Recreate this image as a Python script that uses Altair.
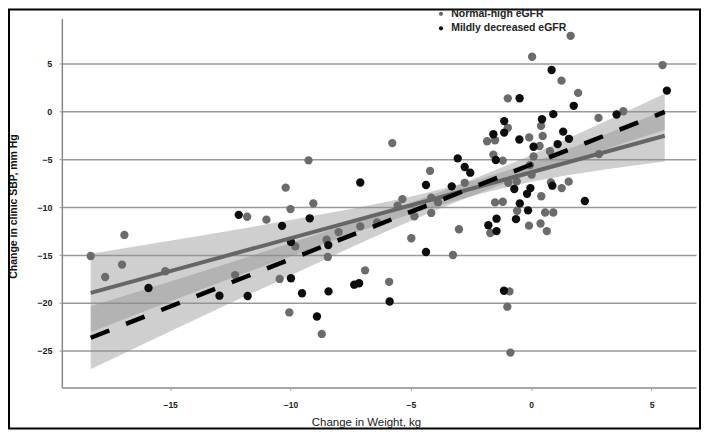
import altair as alt
import pandas as pd

# ---- data ----
normal_x = [-18.3, -17.7, -16.9, -17.0, -15.2, -12.3, -11.8, -11.0, -10.2, -10.0, -10.45, -9.8, -10.05, -9.25, -9.05,
            -8.7, -8.5, -8.45, -8.0, -7.1, -6.9, -6.4, -5.9, -5.77, -5.35, -5.55, -4.98, -4.85, -4.2, -4.15, -3.87,
            -4.15, -3.0, -3.25, -2.76, -1.83, -1.5, -1.57, -1.18, -1.5, -1.18, -1.7, -0.97, -0.97, -0.9, -0.99, -0.86,
            -0.95, -0.6, -0.58, -0.09, -0.08, 0.04, 0.41, 0.48, 0.35, 0.1, -0.05, 0.02, 0.78, 0.82, 0.42, 0.58, 0.92,
            0.39, 0.65, 1.27, 1.56, 1.64, 1.26, 1.95, 2.8, 3.83, 2.82, 5.46]
normal_y = [-15.1, -17.3, -12.9, -16.0, -16.7, -17.1, -11.0, -11.3, -7.95, -10.2, -17.5, -14.1, -21.0, -5.1, -9.6,
            -23.25, -13.4, -15.2, -12.6, -12.0, -16.6, -11.6, -17.8, -3.3, -9.15, -9.85, -13.25, -10.95, -6.2, -9.0,
            -9.5, -10.6, -12.3, -15.0, -7.45, -3.1, -3.0, -4.5, -5.13, -9.5, -9.43, -12.7, 1.38, -1.7, -18.8, -20.4,
            -25.2, -7.45, -7.3, -10.37, -11.93, -2.7, 5.73, -1.5, -2.55, -3.6, -4.7, -5.6, -6.6, -4.15, -7.4, -8.85,
            -10.55, -10.55, -11.7, -12.5, -8.0, -7.33, 7.92, 3.23, 1.95, -0.66, 0.03, -4.45, 4.86]

mild_x = [-15.9, -12.95, -12.15, -11.78, -10.35, -9.98, -9.2, -9.98, -9.52, -8.9, -8.42, -8.43, -7.35, -7.15, -7.1,
          -5.88, -4.37, -4.37, -3.05, -2.76, -2.53, -3.3, -1.57, -1.47, -1.78, -1.44, -1.44, -1.12, -1.12, -1.13,
          -0.48, -0.49, -0.7, -0.17, -0.03, -0.47, -0.13, -0.63, 0.45, 0.1, 0.85, 0.92, 1.1, 0.88, 1.33, 1.57, 1.77,
          2.23, 3.55, 5.64]
mild_y = [-18.45, -19.25, -10.8, -19.28, -11.95, -13.63, -11.16, -17.43, -19.0, -21.43, -18.8, -13.96, -18.1, -17.95,
          -7.42, -19.86, -7.68, -14.68, -4.9, -5.8, -6.39, -7.82, -2.37, -5.06, -11.88, -11.2, -12.5, -1.0, -2.2,
          -18.73, 1.39, -2.92, -8.1, -8.6, -8.0, -9.6, -10.33, -11.25, -0.8, -3.68, 4.34, -0.27, -3.4, -7.75, -2.1,
          -2.85, 0.6, -9.35, -0.31, 2.19]

groups = ["Normal-high eGFR", "Mildly decreased eGFR"]

# fitted lines (end points) and confidence bands
fit_x = [-18.3, 5.55]
normal_fit_y = [-18.96, -2.53]
mild_fit_y = [-23.65, -0.04]

band_x = [-18.3, -14, -10, -6, -3, 0, 3, 5.55]
normal_lo = [-23.06, -18.89, -15.14, -11.54, -9.22, -7.35, -6.08, -5.23]
normal_hi = [-14.86, -13.09, -11.34, -9.44, -7.62, -5.35, -2.48, 0.17]
mild_lo = [-26.95, -21.79, -17.13, -12.52, -9.35, -6.53, -4.01, -1.94]
mild_hi = [-20.35, -16.99, -13.73, -10.42, -7.65, -4.53, -1.11, 1.86]

x_ticks = [-15, -10, -5, 0, 5]
y_ticks = [-25, -20, -15, -10, -5, 0, 5]

# ---- tables ----
pts = pd.DataFrame({
    "x": normal_x + mild_x,
    "y": normal_y + mild_y,
    "group": [groups[0]] * len(normal_x) + [groups[1]] * len(mild_x),
})
bands = pd.DataFrame({"x": band_x, "nlo": normal_lo, "nhi": normal_hi, "mlo": mild_lo, "mhi": mild_hi})
fits = pd.DataFrame({"x": fit_x, "n": normal_fit_y, "m": mild_fit_y})

FONT = "Liberation Sans"
xs = alt.Scale(domain=[-19.5, 6.85], nice=False, zero=False)
ys = alt.Scale(domain=[-28.85, 9.72], nice=False, zero=False)

x_axis = alt.Axis(values=x_ticks, grid=False, title="Change in Weight, kg",
                  labelFont=FONT, labelFontSize=8.5, labelFontWeight="bold", labelColor="#222",
                  tickSize=3, tickColor="#aaa", domainColor="#888", domainWidth=1.5, labelPadding=10,
                  titleFont=FONT, titleFontSize=11.5, titleFontWeight="normal",
                  titleColor="#222", titleX=305, titleY=35, titleAlign="center", titleBaseline="middle")
y_axis = alt.Axis(values=y_ticks, grid=True, gridColor="#999", gridWidth=1.5,
                  title="Change in clinic SBP, mm Hg",
                  labelFont=FONT, labelFontSize=9, labelFontWeight="bold", labelColor="#222",
                  tickSize=3, tickColor="#aaa", domainColor="#888", domainWidth=1.5, labelPadding=7,
                  titleFont=FONT, titleFontSize=10.5, titleFontWeight="bold", titleColor="#111",
                  titleX=-48, titleY=188, titleAngle=270, titleAlign="center", titleBaseline="middle")

X = alt.X("x:Q", scale=xs, axis=x_axis)

band_n = alt.Chart(bands).mark_area(color="#8c8c8c", opacity=0.42, interpolate="monotone").encode(
    x=X, y=alt.Y("nlo:Q", scale=ys, axis=y_axis), y2="nhi:Q")
band_m = alt.Chart(bands).mark_area(color="#8c8c8c", opacity=0.42, interpolate="monotone").encode(
    x=X, y=alt.Y("mlo:Q", scale=ys, axis=y_axis), y2="mhi:Q")

points = alt.Chart(pts).mark_circle(size=70, opacity=1).encode(
    x=X,
    y=alt.Y("y:Q", scale=ys, axis=y_axis),
    color=alt.Color("group:N", scale=alt.Scale(domain=groups, range=["#6b6b6b", "#0d0d0d"]),
                    legend=alt.Legend(orient="none", legendX=375, legendY=-10, title=None,
                                      labelFont=FONT, labelFontSize=10.5, labelFontWeight="bold",
                                      labelColor="#222", symbolSize=18, symbolType="circle",
                                      labelOffset=5, rowPadding=3.5, padding=0)),
)

line_n = alt.Chart(fits).mark_line(color="#666", strokeWidth=4).encode(
    x=X, y=alt.Y("n:Q", scale=ys, axis=y_axis))
line_m = alt.Chart(fits).mark_line(color="#000", strokeWidth=4.5, strokeDash=[20, 18]).encode(
    x=X, y=alt.Y("m:Q", scale=ys, axis=y_axis))

frame = alt.Chart(pd.DataFrame({"k": [0]})).mark_rect(fillOpacity=0, stroke="black", strokeWidth=2).encode(
    x=alt.value(-53), x2=alt.value(640), y=alt.value(-9), y2=alt.value(411))

chart = alt.layer(band_n, band_m, points, line_n, line_m, frame).properties(
    width=636, height=370,
    padding={"left": 54, "top": 10, "right": 5, "bottom": 42},
    autosize=alt.AutoSizeParams(type="none"),
).configure_view(stroke=None)

chart.save("out.html", embed_options={"renderer": "svg", "actions": False})
